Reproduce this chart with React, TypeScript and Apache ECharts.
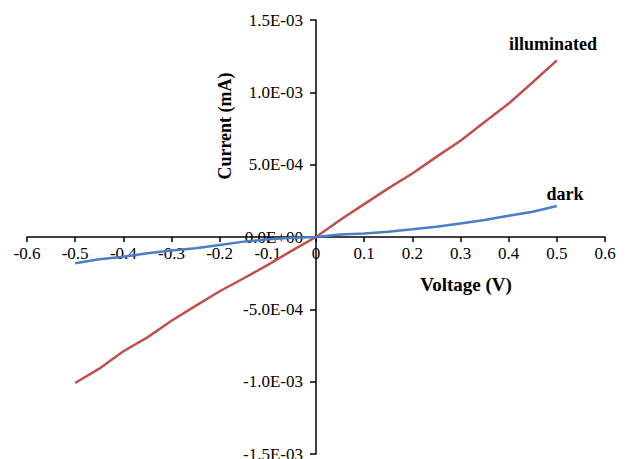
import React, { useEffect, useRef } from "react";
import * as echarts from "echarts";

const voltage = [-0.5, -0.45, -0.4, -0.35, -0.3, -0.25, -0.2, -0.15, -0.1, -0.05, 0, 0.05, 0.1, 0.15, 0.2, 0.25, 0.3, 0.35, 0.4, 0.45, 0.5];
const illuminated = [-1.009e-3, -0.91e-3, -0.79e-3, -0.694e-3, -0.579e-3, -0.476e-3, -0.375e-3, -0.285e-3, -0.193e-3, -0.094e-3, 0, 0.117e-3, 0.227e-3, 0.336e-3, 0.439e-3, 0.554e-3, 0.665e-3, 0.795e-3, 0.922e-3, 1.07e-3, 1.221e-3];
const dark = [-0.182e-3, -0.154e-3, -0.136e-3, -0.113e-3, -0.094e-3, -0.078e-3, -0.055e-3, -0.032e-3, -0.016e-3, -0.005e-3, 0, 0.018e-3, 0.025e-3, 0.037e-3, 0.053e-3, 0.071e-3, 0.094e-3, 0.117e-3, 0.147e-3, 0.175e-3, 0.214e-3];

const FONT = "'Liberation Serif', 'Times New Roman', serif";
const GRID_LEFT = 27;
const GRID_RIGHT = 27;
const GRID_TOP = 20;
const GRID_BOTTOM = 5;
const WIDTH = 632;
const HEIGHT = 459;

function sci(v: number): string {
  if (Math.abs(v) < 1e-12) return "0.0E+00";
  const s = v.toExponential(1);
  const m = s.match(/^(-?[\d.]+)e([+-])(\d+)$/);
  if (!m) return s;
  return `${m[1]}E${m[2]}${m[3].padStart(2, "0")}`;
}

export default function App() {
  const ref = useRef<HTMLDivElement>(null);
  useEffect(() => {
    if (!ref.current) return;
    const chart = echarts.init(ref.current, undefined, { renderer: "svg" });
    const gridW = WIDTH - GRID_LEFT - GRID_RIGHT;
    const gridH = HEIGHT - GRID_TOP - GRID_BOTTOM;
    chart.setOption({
      animation: false,
      backgroundColor: "#ffffff",
      grid: {
        left: GRID_LEFT,
        right: GRID_RIGHT,
        top: GRID_TOP,
        bottom: GRID_BOTTOM,
        containLabel: false,
        outerBoundsMode: "none",
      },
      xAxis: {
        type: "value",
        min: -0.6,
        max: 0.6,
        interval: 0.1,
        position: "bottom",
        offset: -gridH / 2,
        axisLine: { onZero: false, lineStyle: { color: "#000", width: 1.5 } },
        axisTick: { show: true, length: 5, lineStyle: { color: "#000", width: 1.5 } },
        axisLabel: {
          color: "#000",
          fontFamily: FONT,
          fontSize: 17,
          margin: 8,
          formatter: (v: number) => {
            const r = Math.round(v * 10) / 10;
            return r === 0 ? "0" : r.toFixed(1);
          },
        },
        splitLine: { show: false },
      },
      yAxis: {
        type: "value",
        min: -1.5e-3,
        max: 1.5e-3,
        interval: 5e-4,
        position: "left",
        offset: -gridW / 2,
        axisLine: { onZero: false, lineStyle: { color: "#000", width: 1.5 } },
        axisTick: { show: true, length: 6, lineStyle: { color: "#000", width: 1.5 } },
        axisLabel: {
          color: "#000",
          fontFamily: FONT,
          fontSize: 17,
          margin: 13,
          formatter: (v: number) => sci(v),
        },
        splitLine: { show: false },
      },
      series: [
        {
          name: "illuminated",
          type: "line",
          data: voltage.map((v, i) => [v, illuminated[i]]),
          showSymbol: false,
          lineStyle: { color: "#C0504D", width: 2.5 },
          itemStyle: { color: "#C0504D" },
        },
        {
          name: "dark",
          type: "line",
          data: voltage.map((v, i) => [v, dark[i]]),
          showSymbol: false,
          lineStyle: { color: "#4A7EC6", width: 2.5 },
          itemStyle: { color: "#4A7EC6" },
        },
      ],
      graphic: [
        {
          type: "text",
          x: 225,
          y: 126,
          rotation: Math.PI / 2,
          style: {
            text: "Current (mA)",
            fontFamily: FONT,
            fontSize: 18,
            fontWeight: "bold",
            fill: "#000",
            align: "center",
            verticalAlign: "middle",
          },
        },
        {
          type: "text",
          x: 466,
          y: 284,
          style: {
            text: "Voltage (V)",
            fontFamily: FONT,
            fontSize: 19,
            fontWeight: "bold",
            fill: "#000",
            align: "center",
            verticalAlign: "middle",
          },
        },
        {
          type: "text",
          x: 553,
          y: 44,
          style: {
            text: "illuminated",
            fontFamily: FONT,
            fontSize: 18,
            fontWeight: "bold",
            fill: "#000",
            align: "center",
            verticalAlign: "middle",
          },
        },
        {
          type: "text",
          x: 565,
          y: 194,
          style: {
            text: "dark",
            fontFamily: FONT,
            fontSize: 18,
            fontWeight: "bold",
            fill: "#000",
            align: "center",
            verticalAlign: "middle",
          },
        },
      ],
    });
    return () => chart.dispose();
  }, []);
  return (
    <div
      ref={ref}
      style={{ position: "fixed", left: 0, top: 0, width: 632, height: 459, background: "#fff" }}
    />
  );
}
